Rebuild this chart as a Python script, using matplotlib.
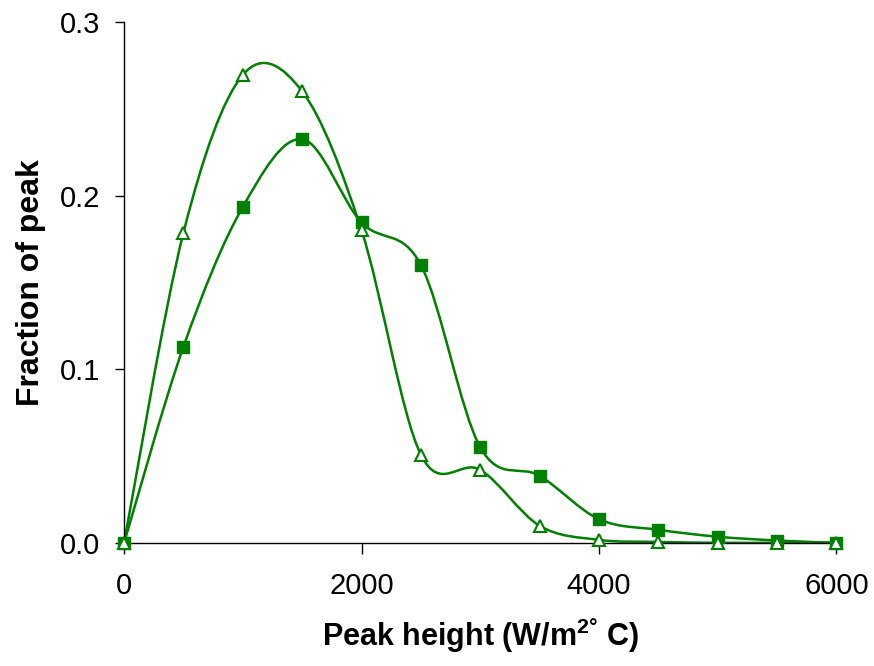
import numpy as np
import matplotlib.pyplot as plt
from matplotlib.path import Path
from matplotlib.patches import PathPatch

# data
peak_height = [0, 500, 1000, 1500, 2000, 2500, 3000, 3500, 4000, 4500, 5000, 5500, 6000]
frac_square = [0.0, 0.113, 0.1935, 0.2325, 0.1845, 0.160, 0.055, 0.0386, 0.0136, 0.0075, 0.0035, 0.0013, 0.0]
frac_triangle = [0.0, 0.1787, 0.2695, 0.260, 0.180, 0.0507, 0.042, 0.0098, 0.0017, 0.0005, 0.0, 0.0, 0.0]

green = '#008000'

plt.rcParams['font.family'] = ['Liberation Sans', 'DejaVu Sans']
plt.rcParams['mathtext.fontset'] = 'custom'
plt.rcParams['mathtext.rm'] = 'Liberation Sans:bold'
plt.rcParams['mathtext.it'] = 'Liberation Sans:bold'
plt.rcParams['mathtext.bf'] = 'Liberation Sans:bold'


def smooth_path(x, y):
    # excel-style smoothed line: cubic bezier with catmull-rom control points
    x = np.asarray(x, float)
    y = np.asarray(y, float)
    verts = [(x[0], y[0])]
    codes = [Path.MOVETO]
    n = len(x)
    for i in range(n - 1):
        i0 = max(i - 1, 0)
        i3 = min(i + 2, n - 1)
        c1 = (x[i] + (x[i + 1] - x[i0]) / 6, y[i] + (y[i + 1] - y[i0]) / 6)
        c2 = (x[i + 1] - (x[i3] - x[i]) / 6, y[i + 1] - (y[i3] - y[i]) / 6)
        verts += [c1, c2, (x[i + 1], y[i + 1])]
        codes += [Path.CURVE4] * 3
    return Path(verts, codes)


fig = plt.figure(figsize=(8.74, 6.66), dpi=100)
ax = fig.add_axes([0.142, 0.185, 0.815, 0.782])

for yy in (frac_square, frac_triangle):
    ax.add_patch(PathPatch(smooth_path(peak_height, yy), facecolor='none',
                           edgecolor=green, lw=1.8, zorder=2))

ax.plot(peak_height, frac_square, ls='none', marker='s', ms=8.5,
        color=green, zorder=3, clip_on=False)
ax.plot(peak_height, frac_triangle, ls='none', marker='^', ms=9,
        mfc='white', mec=green, mew=1.5, zorder=3, clip_on=False)

ax.set_xlim(0, 6000)
ax.set_ylim(0, 0.3)
ax.set_xticks([0, 2000, 4000, 6000])
ax.set_yticks([0, 0.1, 0.2, 0.3])
ax.set_yticklabels(['0.0', '0.1', '0.2', '0.3'])
ax.spines['top'].set_visible(False)
ax.spines['right'].set_visible(False)
for s in ('left', 'bottom'):
    ax.spines[s].set_linewidth(1.0)
ax.tick_params(axis='both', direction='out', labelsize=21, width=1.0)
ax.tick_params(axis='x', length=8, pad=13)
ax.tick_params(axis='y', length=6.5, pad=11)

ax.set_xlabel('Peak height (W/m$^{2\u00b0}$ C)', fontsize=22, fontweight='bold', labelpad=12)
ax.set_ylabel('Fraction of peak', fontsize=23, fontweight='bold', labelpad=10)

fig.savefig('out.png', dpi=100)
